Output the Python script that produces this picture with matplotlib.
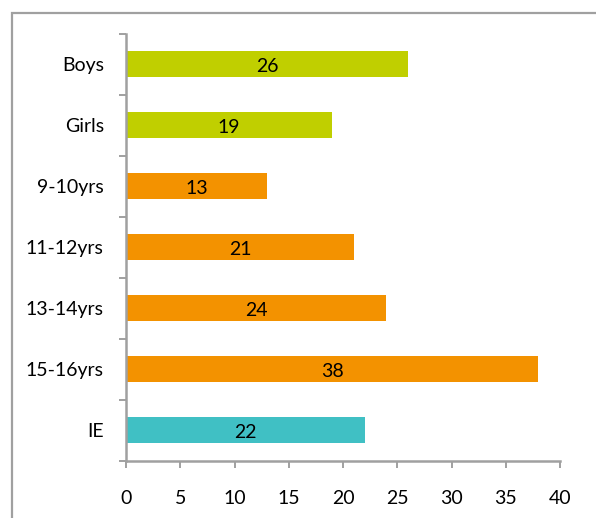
import matplotlib.pyplot as plt
from matplotlib.patches import Rectangle
import numpy as np

# chart data
categories = ['Boys', 'Girls', '9-10yrs', '11-12yrs', '13-14yrs', '15-16yrs', 'IE']
values = [26, 19, 13, 21, 24, 38, 22]
colours = ['#C0CF00', '#C0CF00', '#F39200', '#F39200', '#F39200', '#F39200', '#40C0C4']
xticks = [0, 5, 10, 15, 20, 25, 30, 35, 40]

plt.rcParams['font.family'] = ['Lato', 'DejaVu Sans']
grey = '#A0A0A0'

fig = plt.figure(figsize=(5.96, 5.18), dpi=100)
ax = fig.add_axes([126/596, 1 - 460.5/518, (560 - 126)/596, (460.5 - 33.5)/518])

# outer frame (only left and top edges visible in the reference)
fig.patches.append(Rectangle((12/596, -0.1), 1.2, 1 - 13/518 + 0.1, transform=fig.transFigure,
                             fill=False, edgecolor=grey, linewidth=1.6))

y = np.arange(len(categories))
ax.barh(y, values, height=0.41, color=colours)
for yi, v in zip(y, values):
    ax.text(v / 2, yi + 0.02, str(v), ha='center', va='center_baseline', fontsize=14)

ax.set_ylim(len(categories) - 0.5, -0.5)
ax.set_xlim(0, 40)
ax.set_xticks(xticks)
ax.set_yticks(y)
ax.set_yticklabels(categories)
ax.set_yticks(np.arange(len(categories) + 1) - 0.5, minor=True)
ax.tick_params(axis='y', which='major', length=0, pad=16, labelsize=14)
ax.tick_params(axis='y', which='minor', length=5, width=1.4, color=grey, direction='out')
ax.tick_params(axis='x', length=5, width=1.4, color=grey, direction='out', pad=16, labelsize=14)

for s in ['top', 'right']:
    ax.spines[s].set_visible(False)
for s in ['left', 'bottom']:
    ax.spines[s].set_color(grey)
    ax.spines[s].set_linewidth(1.8)

fig.savefig('out.png', dpi=100)
